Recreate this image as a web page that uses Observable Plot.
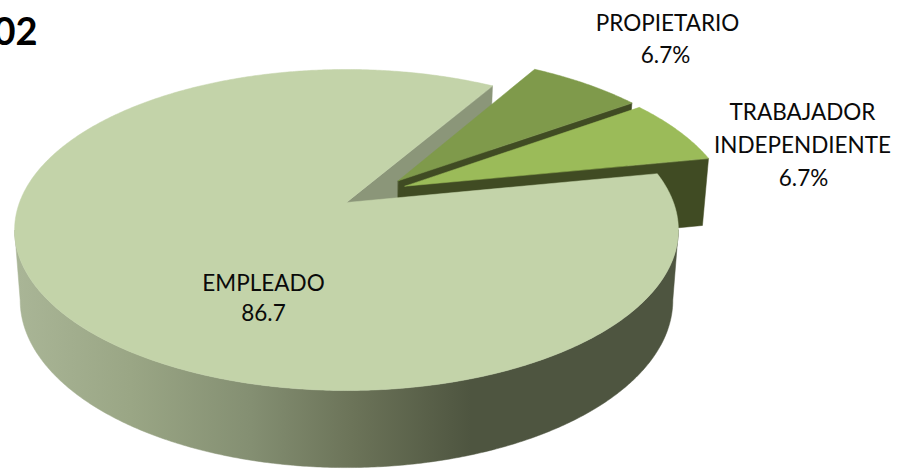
<!DOCTYPE html>
<html><head><meta charset="utf-8">
<script src="https://cdn.jsdelivr.net/npm/d3@7"></script>
<script src="https://cdn.jsdelivr.net/npm/@observablehq/plot@0.6"></script>
<style>html,body{margin:0;padding:0;background:#fff}svg{display:block}</style>
</head><body><div id="chart"></div>
<script>
const categories = ["EMPLEADO", "PROPIETARIO", "TRABAJADOR INDEPENDIENTE"];
const values = [86.7, 6.7, 6.7];
const valueLabels = ["86.7", "6.7%", "6.7%"];
const heading = "02";

// Perspective disc model
const K = 0.1713, X0 = 346;
const TOP = {x: 327, y0: 202, a: 155.8};
const BOT = {x: 321.5, y0: 271, a: 162.5};
const rad = d => d * Math.PI / 180;
function proj(u, v, p) {
  const w = 1 + K * v;
  return {x: X0 + p.x * u / w, y: p.y0 - p.a * v / w};
}
const FIRST = 79;
const total = d3.sum(values);
let acc = FIRST;
const arcs = values.map(v => { const s = acc; acc += v / total * 360; return {a0: s, a1: acc}; });
const explode = [[0, 0], [0.162, 0.143], [0.182, 0.107]];

function rimPoint(a, off, plane) {
  return proj(Math.sin(rad(a)) + off[0], Math.cos(rad(a)) + off[1], plane);
}
function topFace(i) {
  const {a0, a1} = arcs[i], off = explode[i];
  const pts = [proj(off[0], off[1], TOP)];
  const n = Math.ceil((a1 - a0) * 2);
  for (let j = 0; j <= n; ++j) pts.push(rimPoint(a0 + (a1 - a0) * j / n, off, TOP));
  return pts;
}
function radialWall(i, a) {
  const off = explode[i];
  return [proj(off[0], off[1], TOP), rimPoint(a, off, TOP), rimPoint(a, off, BOT), proj(off[0], off[1], BOT)];
}
// Front-facing side of the large slice, between the two silhouette tangents
const tangent = Math.acos(-K) * 180 / Math.PI;
const sideAngles = d3.range(tangent, 360 - tangent, 0.5).concat(360 - tangent);
const side = [
  ...sideAngles.map(a => rimPoint(a, explode[0], TOP)),
  ...sideAngles.slice().reverse().map(a => rimPoint(a, explode[0], BOT))
];
const sideStops = [[18, "#a9b596"], [130, "#9aa685"], [250, "#848f72"], [350, "#6c7459"], [470, "#4e5540"], [680, "#4e5540"]];

const poly = (pts, fill) => Plot.line(pts, {x: "x", y: "y", fill, stroke: fill, strokeWidth: 0.5, curve: "linear-closed"});
const FONT = "Lato, 'Open Sans', sans-serif";
const label = (txt, x, y, o = {}) => Plot.text([txt], {text: d => d, x: () => x, y: () => y, fontSize: 22.5, fill: "#0a0a0a", textAnchor: "middle", lineAnchor: "middle", fontFamily: FONT, ...o});

const gradientDefs = () => {
  const defs = d3.create("svg:defs");
  const g = defs.append("linearGradient").attr("id", "sideShade").attr("gradientUnits", "userSpaceOnUse")
    .attr("x1", 0).attr("x2", 898).attr("y1", 0).attr("y2", 0);
  sideStops.forEach(([x, c]) => g.append("stop").attr("offset", x / 898).attr("stop-color", c));
  return defs.node();
};

const chart = Plot.plot({
  width: 898, height: 472, margin: 0,
  x: {domain: [0, 898], range: [0, 898], axis: null},
  y: {domain: [0, 472], range: [0, 472], axis: null},
  style: {background: "#fff", fontFamily: FONT},
  marks: [
    gradientDefs,
    // back wall of the notch
    poly(radialWall(0, arcs[0].a1), "#8b9679"),
    // PROPIETARIO
    poly(radialWall(1, arcs[1].a1), "#404b23"),
    poly(topFace(1), "#7f9a4b"),
    // TRABAJADOR INDEPENDIENTE
    poly(radialWall(2, arcs[2].a1), "#404b23"),
    poly(topFace(2), "#9bbb59"),
    // EMPLEADO
    poly(side, "url(#sideShade)"),
    poly(topFace(0), "#c3d3a9"),
    // labels
    label(categories[0], 263, 283),
    label(valueLabels[0], 263, 313),
    label(categories[1], 667, 23),
    label(valueLabels[1], 665, 55),
    label("TRABAJADOR", 802, 112),
    label("INDEPENDIENTE", 802, 145),
    label(valueLabels[2], 803, 178),
    Plot.text([heading], {text: d => d, x: () => 37, y: () => 32, fontSize: 38, fontWeight: 700, fill: "#000", textAnchor: "end", lineAnchor: "middle", fontFamily: FONT})
  ]
});
document.getElementById("chart").appendChild(chart);
</script></body></html>
